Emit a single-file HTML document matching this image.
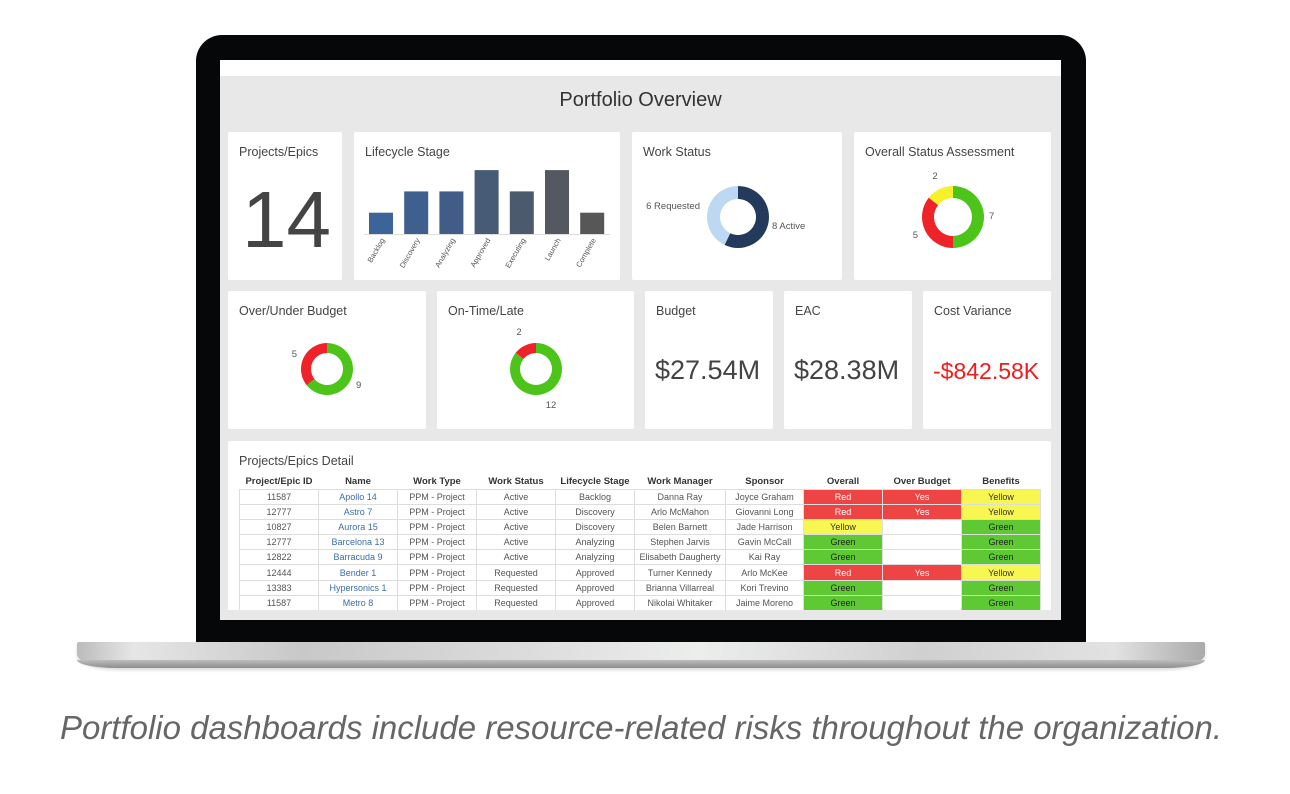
<!DOCTYPE html>
<html><head><meta charset="utf-8"><style>
*{box-sizing:border-box;margin:0;padding:0}
body{width:1290px;height:794px;background:#fff;position:relative;overflow:hidden;font-family:"Liberation Sans",sans-serif;color:#444}
.abs{position:absolute}
.card{position:absolute;background:#fff;border-radius:2px}
.ct{position:absolute;left:11px;top:13px;font-size:12.5px;color:#444}
.big{position:absolute;font-size:27px;color:#444;left:10px;top:64px}
table{position:absolute;left:239px;top:474px;border-collapse:collapse;font-size:9px;table-layout:fixed}
th{font-weight:bold;color:#333;height:15px;font-size:9.5px;border:none}
td{height:15.2px;border:1px solid #ddd;text-align:center;color:#555;padding:0;white-space:nowrap;overflow:hidden}
td.n{color:#3a6ea8}
.r{background:#ef4444;color:#fff}.y{background:#f8f650;color:#333}.g{background:#5fc933;color:#222}
</style></head><body>
<div class="abs" style="left:196px;top:35px;width:890px;height:612px;background:#060708;border-radius:26px 26px 0 0"></div>
<div class="abs" style="left:220px;top:60px;width:841px;height:560px;background:#fff"></div>
<div class="abs" style="left:220px;top:76px;width:841px;height:544px;background:#e8e8e8"></div>
<div class="abs" style="left:220px;top:89px;width:841px;text-align:center;font-size:20px;color:#333">Portfolio Overview</div>

<div class="card" style="left:228px;top:132px;width:114px;height:148px"><div class="ct">Projects/Epics</div><div class="abs" style="left:14px;top:42px;font-size:80px;color:#444;font-weight:300">14</div></div>
<div class="card" style="left:354px;top:132px;width:266px;height:148px"><div class="ct">Lifecycle Stage</div></div>
<div class="card" style="left:632px;top:132px;width:210px;height:148px"><div class="ct">Work Status</div></div>
<div class="card" style="left:854px;top:132px;width:197px;height:148px"><div class="ct">Overall Status Assessment</div></div>
<div class="card" style="left:228px;top:291px;width:198px;height:138px"><div class="ct">Over/Under Budget</div></div>
<div class="card" style="left:437px;top:291px;width:197px;height:138px"><div class="ct">On-Time/Late</div></div>
<div class="card" style="left:645px;top:291px;width:128px;height:138px"><div class="ct">Budget</div><div class="big">$27.54M</div></div>
<div class="card" style="left:784px;top:291px;width:128px;height:138px"><div class="ct">EAC</div><div class="big">$28.38M</div></div>
<div class="card" style="left:923px;top:291px;width:128px;height:138px"><div class="ct">Cost Variance</div><div class="big" style="color:#ee1c1c;font-size:23px;top:67px">-$842.58K</div></div>
<div class="card" style="left:228px;top:441px;width:823px;height:169px;border-radius:2px 2px 0 0"><div class="ct">Projects/Epics Detail</div></div>

<table>
<colgroup><col style="width:79px"><col style="width:79px"><col style="width:79px"><col style="width:79px"><col style="width:79px"><col style="width:91px"><col style="width:78px"><col style="width:79px"><col style="width:79px"><col style="width:79px"></colgroup>
<tr><th>Project/Epic ID</th><th>Name</th><th>Work Type</th><th>Work Status</th><th>Lifecycle Stage</th><th>Work Manager</th><th>Sponsor</th><th>Overall</th><th>Over Budget</th><th>Benefits</th></tr>
<tr><td>11587</td><td class="n">Apollo 14</td><td>PPM - Project</td><td>Active</td><td>Backlog</td><td>Danna Ray</td><td>Joyce Graham</td><td class="r">Red</td><td class="r">Yes</td><td class="y">Yellow</td></tr>
<tr><td>12777</td><td class="n">Astro 7</td><td>PPM - Project</td><td>Active</td><td>Discovery</td><td>Arlo McMahon</td><td>Giovanni Long</td><td class="r">Red</td><td class="r">Yes</td><td class="y">Yellow</td></tr>
<tr><td>10827</td><td class="n">Aurora 15</td><td>PPM - Project</td><td>Active</td><td>Discovery</td><td>Belen Barnett</td><td>Jade Harrison</td><td class="y">Yellow</td><td></td><td class="g">Green</td></tr>
<tr><td>12777</td><td class="n">Barcelona 13</td><td>PPM - Project</td><td>Active</td><td>Analyzing</td><td>Stephen Jarvis</td><td>Gavin McCall</td><td class="g">Green</td><td></td><td class="g">Green</td></tr>
<tr><td>12822</td><td class="n">Barracuda 9</td><td>PPM - Project</td><td>Active</td><td>Analyzing</td><td>Elisabeth Daugherty</td><td>Kai Ray</td><td class="g">Green</td><td></td><td class="g">Green</td></tr>
<tr><td>12444</td><td class="n">Bender 1</td><td>PPM - Project</td><td>Requested</td><td>Approved</td><td>Turner Kennedy</td><td>Arlo McKee</td><td class="r">Red</td><td class="r">Yes</td><td class="y">Yellow</td></tr>
<tr><td>13383</td><td class="n">Hypersonics 1</td><td>PPM - Project</td><td>Requested</td><td>Approved</td><td>Brianna Villarreal</td><td>Kori Trevino</td><td class="g">Green</td><td></td><td class="g">Green</td></tr>
<tr><td>11587</td><td class="n">Metro 8</td><td>PPM - Project</td><td>Requested</td><td>Approved</td><td>Nikolai Whitaker</td><td>Jaime Moreno</td><td class="g">Green</td><td></td><td class="g">Green</td></tr>
</table>
<div class="abs" style="left:220px;top:610px;width:841px;height:10px;background:#e8e8e8"></div>

<div class="abs" style="left:77px;top:642px;width:1128px;height:26px;border-radius:2px 2px 40px 40px/2px 2px 14px 14px;background:linear-gradient(90deg,#bbb 0%,#e6e6e6 5%,#c8c8c8 20%,#dcdcdc 40%,#eceeec 55%,#d0d0d0 75%,#e2e2e2 92%,#aaa 100%);box-shadow:0 2px 3px rgba(0,0,0,.15)"></div>
<div class="abs" style="left:77px;top:660px;width:1128px;height:8px;border-radius:0 0 40px 40px/0 0 8px 8px;background:linear-gradient(#bdbdbd,#8e8e8e)"></div>

<svg class="abs" style="left:0;top:0" width="1290" height="794" id="charts">
<text x="60" y="739" textLength="1162" lengthAdjust="spacingAndGlyphs" font-family="Liberation Sans, sans-serif" font-style="italic" font-size="33" fill="#666">Portfolio dashboards include resource-related risks throughout the organization.</text>
</svg>
<script>
const stages=["Backlog","Discovery","Analyzing","Approved","Executing","Launch","Complete"];
const stageCounts=[1,2,2,3,2,3,1];
const workStatusLabels=["8 Active","6 Requested"];
const workStatusValues=[8,6];
const overallValues=[7,5,2];
const budgetValues=[9,5];
const ontimeValues=[12,2];
const NS="http://www.w3.org/2000/svg";
const svg=document.getElementById('charts');
function mk(t,a){const e=document.createElementNS(NS,t);for(const k in a)e.setAttribute(k,a[k]);svg.appendChild(e);return e;}
const base=234,unit=21.3,x0=369,pitch=35.2,bw=24;
const cols=["#3c6499","#3f5f8e","#415d87","#475a76","#4c5a6e","#535861","#575757"];
const yS=v=>base-v*unit;
stageCounts.forEach((v,i)=>{
 const r=mk('rect',{x:x0+i*pitch,y:yS(v),width:bw,height:base-yS(v),fill:cols[i]});
 
 
 const cx=x0+i*pitch+bw/2+4, cy=base+6;
 const t=mk('text',{x:cx,y:cy,'font-size':'7.5','fill':'#555','text-anchor':'end',transform:`rotate(-60 ${cx} ${cy})`});
 t.textContent=stages[i];
 
 
});
const ax=mk('line',{x1:364,y1:base+.5,x2:610,y2:base+.5,stroke:'#ddd'});


function donut(cx,cy,R,r,vals,colors,name){
 const tot=vals.reduce((a,b)=>a+b,0);let a0=0;
 vals.forEach((v,i)=>{
  const a1=a0+v/tot*2*Math.PI;
  const p=(rad,ang)=>[cx+rad*Math.sin(ang),cy-rad*Math.cos(ang)];
  const lg=(a1-a0)>Math.PI?1:0;
  const [x1,y1]=p(R,a0),[x2,y2]=p(R,a1),[x3,y3]=p(r,a1),[x4,y4]=p(r,a0);
  const d=`M${x1},${y1}A${R},${R} 0 ${lg} 1 ${x2},${y2}L${x3},${y3}A${r},${r} 0 ${lg} 0 ${x4},${y4}Z`;
  const s=mk('path',{d,fill:colors[i]});
  
  
  a0=a1;
 });
}
function lbl(x,y,txt,anchor){const t=mk('text',{x,y,'font-size':'9.5',fill:'#555','text-anchor':anchor||'start'});t.textContent=txt;
 
 }
donut(738,217,31,18,workStatusValues,["#243a5c","#bcd8f2"],'work-status');
lbl(772,229,workStatusLabels[0]);lbl(700,209,workStatusLabels[1],'end');
donut(953,217,31,19,overallValues,["#4cc41a","#ee2229","#f6f12a"],'overall-status');
lbl(989,219,String(overallValues[0]));lbl(918,238,String(overallValues[1]),'end');lbl(935,179,String(overallValues[2]),'middle');
donut(327,369,26,16,budgetValues,["#4cc41a","#ee2229"],'over-under-budget');
lbl(356,388,String(budgetValues[0]));lbl(297,357,String(budgetValues[1]),'end');
donut(536,369,26,16,ontimeValues,["#4cc41a","#ee2229"],'on-time-late');
lbl(551,408,String(ontimeValues[0]),'middle');lbl(519,335,String(ontimeValues[1]),'middle');
</script>
</body></html>
